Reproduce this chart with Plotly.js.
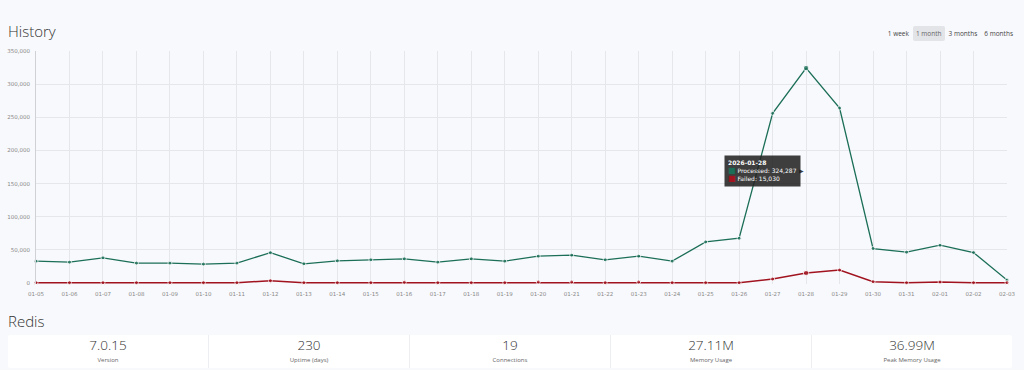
<!DOCTYPE html>
<html>
<head>
<meta charset="utf-8">
<script src="https://cdn.plot.ly/plotly-3.0.1.min.js"></script>
<style>
  html, body { margin: 0; padding: 0; background: #f8f9fc; width: 1024px; height: 370px; overflow: hidden; font-family: "Open Sans", "Noto Sans", sans-serif; }
  #title { position: absolute; left: 8px; top: 21px; font-size: 15px; color: #333; font-weight: 300; }
  #btns { position: absolute; right: 8px; top: 26px; display: flex; gap: 1px; font-size: 6.5px; color: #444; }
  #btns span { padding: 3px 3px; border-radius: 2px; }
  #btns span.on { background: #e3e4e8; color: #666; }
  #chart { position: absolute; left: 0; top: 0; width: 1024px; height: 300px; }
  #redis { position: absolute; left: 8px; top: 311px; font-size: 15px; color: #333; font-weight: 300; }
  #cards { position: absolute; left: 8px; top: 335px; width: 1004px; height: 33px; background: #fff; display: flex; border-radius: 2px; }
  #cards div { flex: 1; text-align: center; border-right: 1px solid #eceef2; }
  #cards div:last-child { border-right: none; }
  #cards .v { display: block; font-size: 13.5px; color: #333; margin-top: 2px; line-height: 16px; font-weight: 300; }
  #cards .l { display: block; font-size: 6px; color: #666; margin-top: 3px; }
</style>
</head>
<body>
<div id="chart"></div>
<div id="title">History</div>
<div id="btns"><span>1 week</span><span class="on">1 month</span><span>3 months</span><span>6 months</span></div>
<div id="redis">Redis</div>
<div id="cards"></div>
<script>
const year = "2026";
const dates = ["01-05","01-06","01-07","01-08","01-09","01-10","01-11","01-12","01-13","01-14",
               "01-15","01-16","01-17","01-18","01-19","01-20","01-21","01-22","01-23","01-24",
               "01-25","01-26","01-27","01-28","01-29","01-30","01-31","02-01","02-02","02-03"];
const processed = [33000,31500,38000,30000,30000,28500,30000,45800,29000,33500,
                   35000,36500,31500,36500,33000,40500,42000,35000,40500,33000,
                   62000,67500,256000,324287,264000,52000,46500,57000,46000,4500];
const failed = [500,500,500,500,500,500,500,3500,500,500,
                500,1000,500,500,500,1500,1500,500,1500,500,
                500,500,6000,15030,19500,2000,500,1500,500,500];
const yTicks = [0,50000,100000,150000,200000,250000,300000,350000];
const tipIndex = 23;
const statValues = ["7.0.15","230","19","27.11M","36.99M"];
const statLabels = ["Version","Uptime (days)","Connections","Memory Usage","Peak Memory Usage"];

const cards = document.getElementById('cards');
statValues.forEach((v, i) => {
  const d = document.createElement('div');
  d.innerHTML = '<span class="v">' + v + '</span><span class="l">' + statLabels[i] + '</span>';
  cards.appendChild(d);
});

const green = '#1b6e57', red = '#a0131f';
const fmt = n => n.toLocaleString('en-US');
const sizes = dates.map((d, i) => i === tipIndex ? 5.5 : 4);

const traces = [
  { x: dates, y: processed, type: 'scatter', mode: 'lines+markers', name: 'Processed',
    line: { color: green, width: 1.3 }, marker: { color: green, size: sizes }, cliponaxis: false, hoverinfo: 'none' },
  { x: dates, y: failed, type: 'scatter', mode: 'lines+markers', name: 'Failed',
    line: { color: red, width: 1.5 }, marker: { color: red, size: sizes }, cliponaxis: false, hoverinfo: 'none' }
];

const tipY = (processed[tipIndex] + failed[tipIndex]) / 2;
const tipText = '<b>' + year + '-' + dates[tipIndex] + '</b><br>' +
  '<span style="color:' + green + ';font-size:8px">■</span> Processed: ' + fmt(processed[tipIndex]) + '<br>' +
  '<span style="color:' + red + ';font-size:8px">■</span> Failed: ' + fmt(failed[tipIndex]);

const layout = {
  width: 1024, height: 300,
  margin: { l: 36, r: 17, t: 51, b: 16 },
  paper_bgcolor: 'rgba(0,0,0,0)', plot_bgcolor: 'rgba(0,0,0,0)',
  showlegend: false,
  xaxis: { type: 'category', range: [0, dates.length - 1], showgrid: true, gridcolor: '#e6e7eb', gridwidth: 1,
           tickfont: { size: 5.5, color: '#888', family: 'DejaVu Sans' }, ticks: '', zeroline: false,
           showline: false, ticklabelstandoff: 5 },
  yaxis: { range: [-1500, 350000], tickvals: yTicks, ticktext: yTicks.map(fmt), showgrid: true, gridcolor: '#e6e7eb',
           tickfont: { size: 5.5, color: '#888', family: 'DejaVu Sans' }, ticks: '', zeroline: false,
           showline: true, linecolor: '#cfd1d6', linewidth: 1, ticklabelstandoff: 4 },
  annotations: [
    { x: dates[tipIndex], y: tipY, xref: 'x', yref: 'y',
      text: tipText, showarrow: false, xanchor: 'right', yanchor: 'middle', xshift: -5, align: 'left',
      font: { size: 6, color: '#ffffff', family: 'DejaVu Sans' }, bgcolor: 'rgba(35,35,35,0.88)', borderpad: 3 },
    { x: dates[tipIndex], y: tipY, xref: 'x', yref: 'y',
      text: '▶', showarrow: false, xanchor: 'right', yanchor: 'middle', xshift: 0,
      font: { size: 6, color: 'rgba(35,35,35,0.88)' } }
  ]
};

Plotly.newPlot('chart', traces, layout, { displayModeBar: false, staticPlot: true });
</script>
</body>
</html>
